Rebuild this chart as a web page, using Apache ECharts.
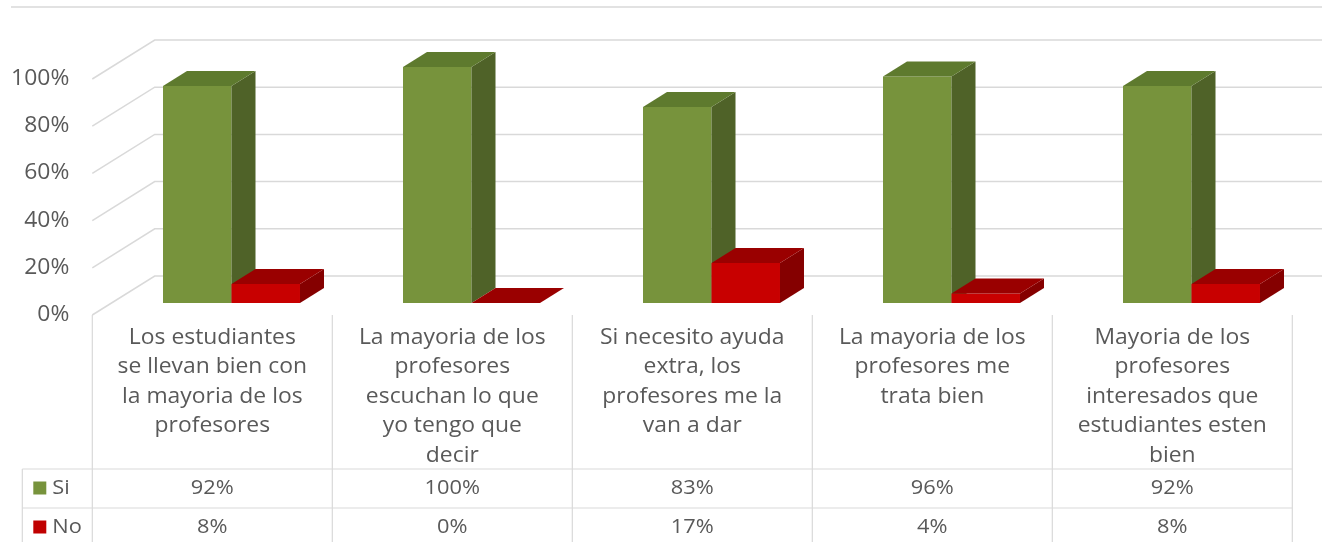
<!DOCTYPE html>
<html><head><meta charset="utf-8">
<script src="https://cdn.jsdelivr.net/npm/echarts@6/dist/echarts.min.js"></script>
<style>html,body{margin:0;padding:0;background:#fff}#c{width:1322px;height:542px}</style>
</head><body><div id="c"></div>
<script>
// ---- data ----
const categories = [
  'Los estudiantes\nse llevan bien con\nla mayoria de los\nprofesores',
  'La mayoria de los\nprofesores\nescuchan lo que\nyo tengo que\ndecir',
  'Si necesito ayuda\nextra, los\nprofesores me la\nvan a dar',
  'La mayoria de los\nprofesores me\ntrata bien',
  'Mayoria de los\nprofesores\ninteresados que\nestudiantes esten\nbien'
];
const seriesNames = ['Si', 'No'];
const siValues = [92, 100, 83, 96, 92];
const noValues = [8, 0, 17, 4, 8];
const tickValues = [0, 20, 40, 60, 80, 100];
const tickLabels = ['0%', '20%', '40%', '60%', '80%', '100%'];

// ---- styling / layout ----
const FONT = 'Open Sans';
const TXT = '#595959';
const LINE = '#d9d9d9';
const SX = 1.09;
const COLORS = [
  { front: '#77933C', side: '#4F6228', top: '#5E7A2E', legend: '#77933C' },
  { front: '#C80000', side: '#850000', top: '#9A0000', legend: '#C00000' }
];
const DX = 1.6;            // horizontal shift per pixel of depth
const BAR_DEPTH = 15;
const WALL_DEPTH = 27;
const FRONT_DEPTH = -12;
const ROW1 = 154, ROW_H = 39, LEG_W = 70;
function shift(p, d) { return [p[0] + DX * d, p[1] - d]; }

function boxRender(idx) {
  const col = COLORS[idx];
  return function (params, api) {
    const cat = api.value(0), val = api.value(1);
    const base = api.coord([cat, 0]);
    const top = api.coord([cat, val]);
    const bw = api.size([1, 0])[0] * 0.2854;
    const x0 = idx === 0 ? base[0] - bw : base[0];
    const x1 = x0 + bw;
    const yb = base[1], yt = top[1];
    const F = p => shift(p, BAR_DEPTH);
    const ch = [];
    if (yb - yt > 0.5) ch.push({ type: 'rect', shape: { x: x0, y: yt, width: bw, height: yb - yt }, style: { fill: col.front } });
    ch.push({ type: 'polygon', shape: { points: [[x1, yt], F([x1, yt]), F([x1, yb]), [x1, yb]] }, style: { fill: col.side } });
    ch.push({ type: 'polygon', shape: { points: [[x0, yt], [x1, yt], F([x1, yt]), F([x0, yt])] }, style: { fill: col.top } });
    return { type: 'group', children: ch };
  };
}

function gridRender(params, api) {
  const v = api.value(1);
  const c = api.coord([0, v]);
  const size = api.size([1, 0])[0];
  const left = [c[0] - size / 2, c[1]];
  const f = shift(left, FRONT_DEPTH);
  const b = shift(left, WALL_DEPTH);
  return {
    type: 'group', children: [
      { type: 'polyline', shape: { points: [f, b, [api.getWidth(), b[1]]] }, style: { stroke: LINE, lineWidth: 1.5, fill: null } },
      { type: 'text', x: f[0] - 23, y: f[1], scaleX: SX, style: { text: tickLabels[params.dataIndex], fill: TXT, font: '21px "' + FONT + '"', align: 'right', verticalAlign: 'middle' } }
    ]
  };
}

function tableRender(params, api) {
  const i = api.value(0);
  const c = api.coord([i, 0]);
  const size = api.size([1, 0])[0];
  const p = shift(c, FRONT_DEPTH);
  const fx = p[0], top = p[1];
  const left = fx - size / 2, right = fx + size / 2;
  const bottom = api.getHeight() + 10;
  const ls = { stroke: LINE, lineWidth: 1.2 };
  const ch = [];
  ch.push({ type: 'line', shape: { x1: left, y1: top, x2: left, y2: bottom }, style: ls });
  if (i === categories.length - 1) ch.push({ type: 'line', shape: { x1: right, y1: top, x2: right, y2: bottom }, style: ls });
  const hl = i === 0 ? left - LEG_W : left;
  ch.push({ type: 'line', shape: { x1: hl, y1: top + ROW1, x2: right, y2: top + ROW1 }, style: ls });
  ch.push({ type: 'line', shape: { x1: hl, y1: top + ROW1 + ROW_H, x2: right, y2: top + ROW1 + ROW_H }, style: ls });
  ch.push({ type: 'text', x: fx, y: top + 8, scaleX: SX, style: { text: categories[i], fill: TXT, font: '21px "' + FONT + '"', align: 'center', verticalAlign: 'top', lineHeight: 29.5 } });
  const vals = [siValues, noValues];
  for (let s = 0; s < 2; s++) {
    const cy = top + ROW1 + ROW_H * s + ROW_H / 2;
    ch.push({ type: 'text', x: fx, y: cy, scaleX: SX, style: { text: vals[s][i] + '%', fill: TXT, font: '20px "' + FONT + '"', align: 'center', verticalAlign: 'middle' } });
    if (i === 0) {
      ch.push({ type: 'rect', shape: { x: left - 59, y: cy - 7, width: 13, height: 13 }, style: { fill: COLORS[s].legend } });
      ch.push({ type: 'text', x: left - 40, y: cy, scaleX: SX, style: { text: seriesNames[s], fill: TXT, font: '20px "' + FONT + '"', align: 'left', verticalAlign: 'middle' } });
    }
  }
  if (i === 0) ch.push({ type: 'line', shape: { x1: left - LEG_W, y1: top + ROW1, x2: left - LEG_W, y2: bottom }, style: ls });
  return { type: 'group', children: ch };
}

const chart = echarts.init(document.getElementById('c'), null, { renderer: 'canvas' });
chart.setOption({
  animation: false,
  backgroundColor: '#ffffff',
  grid: { left: 111.5, top: 67, width: 1200, height: 236 },
  xAxis: { type: 'category', data: categories, show: false },
  yAxis: { type: 'value', min: 0, max: 100, interval: 20, show: false },
  graphic: [
    { type: 'line', shape: { x1: 11, y1: 7, x2: 1322, y2: 7 }, style: { stroke: LINE, lineWidth: 1.5 } }
  ],
  series: [
    { type: 'custom', name: 'grid', z: 1, clip: false, renderItem: gridRender, data: tickValues.map(v => [0, v]), encode: { x: 0, y: 1 } },
    { type: 'custom', name: seriesNames[0], z: 2, clip: false, renderItem: boxRender(0), data: siValues.map((v, i) => [i, v]), encode: { x: 0, y: 1 } },
    { type: 'custom', name: seriesNames[1], z: 3, clip: false, renderItem: boxRender(1), data: noValues.map((v, i) => [i, v]), encode: { x: 0, y: 1 } },
    { type: 'custom', name: 'table', z: 4, clip: false, renderItem: tableRender, data: categories.map((c, i) => [i, 0]), encode: { x: 0, y: 1 } }
  ]
});
</script>
</body></html>
